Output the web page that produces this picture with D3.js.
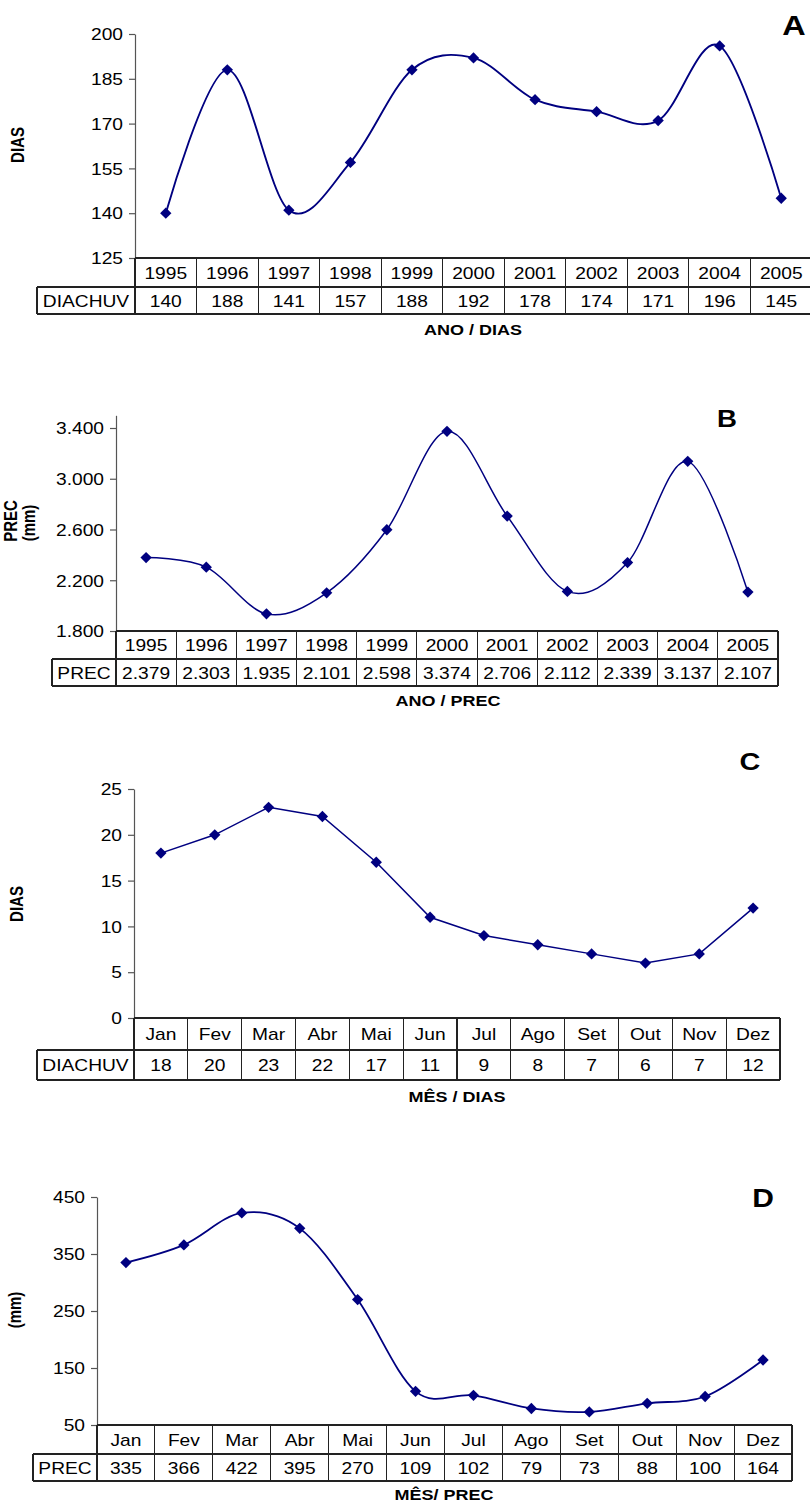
<!DOCTYPE html>
<html>
<head>
<meta charset="utf-8">
<script src="https://cdn.jsdelivr.net/npm/d3@7/dist/d3.min.js"></script>
<style>
  html, body { margin: 0; padding: 0; background: #fff; }
  svg { display: block; }
</style>
</head>
<body>
<svg id="chart" width="810" height="1504"></svg>
<script>
// ---- data ----
const anos = ["1995","1996","1997","1998","1999","2000","2001","2002","2003","2004","2005"];
const diasChuvaAno = [140, 188, 141, 157, 188, 192, 178, 174, 171, 196, 145];
const precAno = [2379, 2303, 1935, 2101, 2598, 3374, 2706, 2112, 2339, 3137, 2107];

const meses = ["Jan","Fev","Mar","Abr","Mai","Jun","Jul","Ago","Set","Out","Nov","Dez"];
const diasChuvaMes = [18, 20, 23, 22, 17, 11, 9, 8, 7, 6, 7, 12];
const precMes = [335, 366, 422, 395, 270, 109, 102, 79, 73, 88, 100, 164];

const ticksA = [125, 140, 155, 170, 185, 200];
const ticksB = [1800, 2200, 2600, 3000, 3400];
const ticksC = [0, 5, 10, 15, 20, 25];
const ticksD = [50, 150, 250, 350, 450];

// ---- shared style ----
const FONT = "'Liberation Sans', Arial, sans-serif";
const SX = 1.2;            // horizontal stretch of the lettering
const FS = 16;             // base font size
const LINE = "#000080";

const ptBR = d3.formatLocale({ decimal: ",", thousands: ".", grouping: [3], currency: ["R$", ""] });
const fmtMil = ptBR.format(",d");
const fmtInt = d3.format("d");

const svg = d3.select("#chart");

function label(g, x, y, s, o = {}) {
  const t = g.append("text")
    .attr("transform", `translate(${x},${y}) scale(${SX},1)` + (o.rotate ? " rotate(-90)" : ""))
    .attr("font-family", FONT)
    .attr("font-size", o.size || FS)
    .attr("font-weight", o.bold ? "bold" : "normal")
    .attr("text-anchor", o.anchor || "middle")
    .attr("fill", "#000")
    .text(s);
  if (o.rotate) t.attr("dy", "0.35em");
  return t;
}

function panel(cfg) {
  const g = svg.append("g");
  const x = d3.scaleBand().domain(cfg.cats).range([cfg.axisX, cfg.right]).padding(0);
  const y = d3.scaleLinear().domain(cfg.domain).range(cfg.range);
  const y0 = y(cfg.domain[0]);
  const rowA = y0 + cfg.h1, rowB = rowA + cfg.h2;
  const cx = c => x(c) + x.bandwidth() / 2;

  // y axis
  const ax = g.append("g")
    .attr("transform", `translate(${cfg.axisX},0)`)
    .call(d3.axisLeft(y).tickValues(cfg.ticks).tickSize(6).tickSizeOuter(0).tickFormat(cfg.fmt));
  ax.select(".domain").attr("stroke", "#555").attr("stroke-width", 1.2);
  ax.selectAll(".tick line").attr("stroke", "#555").attr("stroke-width", 1.2);
  ax.selectAll(".tick text")
    .attr("x", null).attr("dy", null)
    .attr("transform", `translate(-12,${0.36 * FS}) scale(${SX},1)`)
    .attr("font-family", FONT).attr("font-size", FS)
    .attr("text-anchor", "end").attr("fill", "#000");

  // data table under the plot
  const tb = g.append("g").attr("stroke", "#222").attr("stroke-width", 1.1).attr("shape-rendering", "crispEdges");
  tb.append("line").attr("x1", cfg.axisX).attr("x2", cfg.right).attr("y1", y0).attr("y2", y0);
  tb.append("line").attr("x1", cfg.labelLeft).attr("x2", cfg.right).attr("y1", rowA).attr("y2", rowA);
  tb.append("line").attr("x1", cfg.labelLeft).attr("x2", cfg.right).attr("y1", rowB).attr("y2", rowB);
  tb.append("line").attr("x1", cfg.labelLeft).attr("x2", cfg.labelLeft).attr("y1", rowA).attr("y2", rowB);
  const edges = cfg.cats.map(c => x(c)).concat([cfg.right]);
  tb.selectAll(".v").data(edges).join("line")
    .attr("x1", d => d).attr("x2", d => d).attr("y1", y0).attr("y2", rowB);

  cfg.cats.forEach((c, i) => {
    label(g, cx(c), (y0 + rowA) / 2 + 0.38 * FS, c);
    label(g, cx(c), (rowA + rowB) / 2 + 0.38 * FS, cfg.fmt(cfg.values[i]));
  });
  label(g, (cfg.labelLeft + cfg.axisX) / 2, (rowA + rowB) / 2 + 0.38 * FS, cfg.rowName);

  // series line
  const line = d3.line().x((d, i) => cx(cfg.cats[i])).y(d => y(d)).curve(cfg.curve);
  g.append("path").datum(cfg.values)
    .attr("d", line).attr("fill", "none")
    .attr("stroke", LINE).attr("stroke-width", cfg.lw);

  const sym = d3.symbol().type(d3.symbolSquare).size(64);
  g.selectAll(".mk").data(cfg.values).join("path")
    .attr("d", sym)
    .attr("transform", (d, i) => `translate(${cx(cfg.cats[i])},${y(d)}) rotate(45)`)
    .attr("fill", LINE);

  // titles
  label(g, cfg.title[0], cfg.title[1], cfg.title[2], { bold: true, size: 15 });
  label(g, cfg.letter[0], cfg.letter[1], cfg.letter[2], { bold: true, size: cfg.letter[3] });
  cfg.yLabels.forEach(l => label(g, l[0], l[1], l[2], { bold: true, size: 15, rotate: true }));
}

const smooth = d3.curveCardinal.tension(0);

panel({
  cats: anos, values: diasChuvaAno, ticks: ticksA, fmt: fmtInt,
  domain: [125, 200], range: [258, 34],
  axisX: 135, right: 812, labelLeft: 37, h1: 29, h2: 27,
  rowName: "DIACHUV", curve: smooth, lw: 1.9,
  title: [473, 335, "ANO / DIAS"], letter: [794, 35, "A", 27],
  yLabels: [[18, 145, "DIAS"]]
});

panel({
  cats: anos, values: precAno, ticks: ticksB, fmt: fmtMil,
  domain: [1800, 3500], range: [631, 631 - 1700 * 203 / 1600],
  axisX: 116, right: 778, labelLeft: 52, h1: 28, h2: 27,
  rowName: "PREC", curve: smooth, lw: 1.5,
  title: [448, 706, "ANO / PREC"], letter: [727, 427, "B", 23],
  yLabels: [[11, 521, "PREC"], [29, 523, "(mm)"]]
});

panel({
  cats: meses, values: diasChuvaMes, ticks: ticksC, fmt: fmtInt,
  domain: [0, 25], range: [1018, 789],
  axisX: 134, right: 780, labelLeft: 37, h1: 32, h2: 30,
  rowName: "DIACHUV", curve: d3.curveLinear, lw: 1.5,
  title: [457, 1102, "MÊS / DIAS"], letter: [750, 770, "C", 24],
  yLabels: [[17, 904, "DIAS"]]
});

panel({
  cats: meses, values: precMes, ticks: ticksD, fmt: fmtInt,
  domain: [50, 450], range: [1425, 1197],
  axisX: 97, right: 792, labelLeft: 33, h1: 29, h2: 27,
  rowName: "PREC", curve: smooth, lw: 1.8,
  title: [444, 1500, "MÊS/ PREC"], letter: [763, 1207, "D", 25],
  yLabels: [[15, 1310, "(mm)"]]
});
</script>
</body>
</html>
